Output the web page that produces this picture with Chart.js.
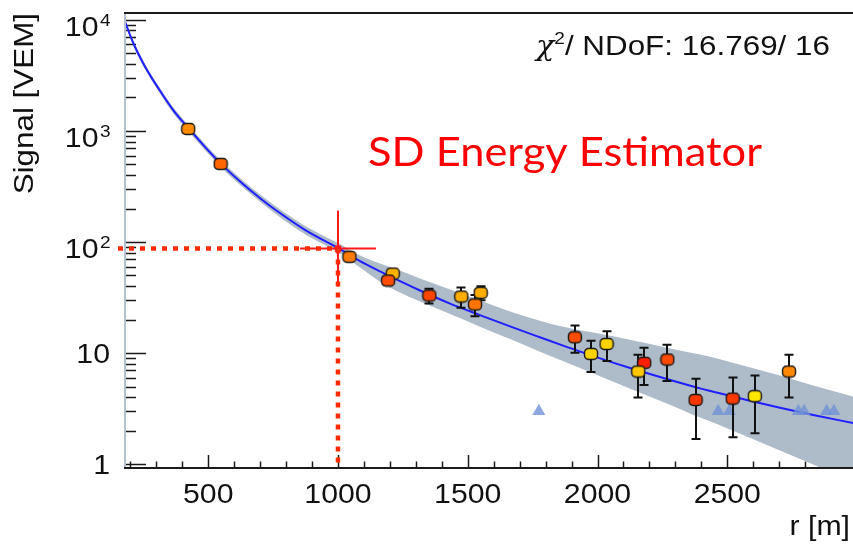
<!DOCTYPE html>
<html>
<head>
<meta charset="utf-8">
<script src="https://cdn.jsdelivr.net/npm/chart.js@4"></script>
<style>
  html, body { margin: 0; padding: 0; background: #fff; overflow: hidden; }
</style>
</head>
<body>
<canvas id="ldf" width="853" height="548"></canvas>
<script>
// triggered stations: distance to axis r [m], signal [VEM], error, marker colour
const stationR   = [423, 548, 1044, 1211, 1193, 1352, 1475, 1550, 1528, 1913, 1975, 2035, 2180, 2157, 2269, 2378, 2521, 2606, 2738];
const stationS   = [1040, 504, 73.5, 52.0, 45.0, 33.0, 32.3, 34.9, 27.4, 13.9, 9.85, 12.1, 8.18, 6.83, 8.76, 3.79, 3.90, 4.10, 6.83];
const stationErr = [45, 25, 4, 4, 4, 5, 6.7, 5, 5.9, 3.8, 3.1, 3.6, 3.0, 2.85, 3.15, 2.1, 2.15, 2.2, 2.85];
const stationCol = ['#ff8c00', '#ff6600', '#ff7a00', '#ffb300', '#ff4d00', '#ff4400', '#ffad00', '#ffae00', '#ff7300',
                    '#ff4c00', '#ffd400', '#ffd200', '#ff1f00', '#ffc800', '#ff4800', '#ff3800', '#ff3800', '#ffe600', '#ff8800'];

// silent stations
const silentR = [1774, 2465, 2508, 2774, 2796, 2883, 2911];
const silentS = [3.0, 3.0, 3.0, 3.0, 3.0, 3.0, 3.0];

// fitted lateral distribution function and its uncertainty band
const fitR   = [179, 211, 256, 314, 365, 423, 488, 552, 635, 706, 764, 879, 1004, 1085, 1162, 1239, 1316, 1432,
                1547, 1663, 1778, 1881, 1984, 2138, 2267, 2395, 2446, 2575, 2703, 2831, 2985];
const fitS   = [9660, 6174, 3802, 2299, 1536, 1062, 714, 497, 331, 241.6, 190.9, 125.8, 87.2, 67.3, 54.4, 44.4, 36.6, 27.9,
                22.0, 17.4, 13.9, 11.4, 9.40, 7.19, 5.85, 4.82, 4.50, 3.79, 3.23, 2.78, 2.35];
const bandHi = [10163, 6495, 4019, 2435, 1634, 1133, 763, 533, 355.5, 260.7, 206.9, 137.2, 96.7, 75.5, 63.9, 55.3, 46.9, 37.3,
                29.7, 23.7, 19.6, 17.0, 15.3, 13.0, 11.2, 9.71, 9.13, 7.57, 6.29, 5.11, 4.07];
const bandLo = [9183, 5869, 3597, 2170, 1444, 995, 668, 464, 308, 223.9, 176.1, 115.3, 80.3, 58.9, 44.0, 35.1, 29.1, 22.5,
                17.3, 13.4, 10.3, 8.23, 6.55, 4.66, 3.52, 2.63, 2.38, 1.78, 1.33, 0.995, 0.70];

// S(1000)
const refR = 1000;
const refS = 87.2;

// axis ticks
const xTicks = [500, 1000, 1500, 2000, 2500];
const xTickLabels = ['500', '1000', '1500', '2000', '2500'];
const yTicks = [1, 10, 100, 1000, 10000];
const yTickExp = [null, null, '2', '3', '4'];
const yTickBase = ['1', '10', '10', '10', '10'];

const FONT = '"Liberation Sans", Arial, Helvetica, sans-serif';
const SX = 1.12;

const xy = (xs, ys) => xs.map((v, i) => ({ x: v, y: ys[i] }));

function stationMarker(fill) {
  const c = document.createElement('canvas');
  c.width = 16; c.height = 14;
  const g = c.getContext('2d');
  g.beginPath();
  g.roundRect(1.5, 1.5, 13, 11, 4);
  g.fillStyle = fill;
  g.fill();
  g.lineWidth = 1.4;
  g.strokeStyle = '#1a1a1a';
  g.stroke();
  return c;
}

// text stretched horizontally by sx
function put(ctx, str, x, y, align, size, sx, rot) {
  ctx.save();
  ctx.translate(x, y);
  if (rot) ctx.rotate(rot);
  ctx.scale(sx, 1);
  ctx.font = size + 'px ' + FONT;
  ctx.textAlign = align;
  ctx.textBaseline = 'alphabetic';
  ctx.fillText(str, 0, 0);
  ctx.restore();
}

const axes = {
  id: 'axes',
  beforeDatasetsDraw(chart) {
    const { ctx, chartArea: a, scales: { x, y } } = chart;
    ctx.save();
    ctx.strokeStyle = '#1a1a1a';
    ctx.lineWidth = 1.5;
    ctx.beginPath();
    // y ticks, inside the frame
    for (let d = 1; d <= 10000; d *= 10) {
      for (let m = 1; m <= 9; m++) {
        const v = d * m;
        if (v < y.min || v > y.max) continue;
        const py = Math.round(y.getPixelForValue(v)) + 0.5;
        ctx.moveTo(a.left, py);
        ctx.lineTo(a.left + (m === 1 ? 21 : 11), py);
      }
    }
    // x ticks
    for (let r = 200; r < x.max; r += 100) {
      const px = Math.round(x.getPixelForValue(r)) + 0.5;
      ctx.moveTo(px, a.bottom);
      ctx.lineTo(px, a.bottom - (r % 500 === 0 ? 13 : 6.5));
    }
    ctx.stroke();
    ctx.restore();
  },
  afterDatasetsDraw(chart) {
    const { ctx, chartArea: a, scales: { x, y } } = chart;
    ctx.save();
    // S(1000) guide lines
    const px = x.getPixelForValue(refR), py = y.getPixelForValue(refS);
    ctx.strokeStyle = '#ff2a00';
    ctx.lineWidth = 4.5;
    ctx.setLineDash([5, 6]);
    ctx.beginPath();
    ctx.moveTo(a.left - 7, py); ctx.lineTo(px, py);
    ctx.moveTo(px, py); ctx.lineTo(px, a.bottom);
    ctx.stroke();
    ctx.setLineDash([]);

    // frame
    ctx.lineWidth = 2;
    ctx.strokeStyle = '#b4c2d0';
    ctx.beginPath();
    ctx.moveTo(a.left, a.top); ctx.lineTo(a.left, a.bottom);
    ctx.stroke();
    ctx.strokeStyle = '#1a1a1a';
    ctx.beginPath();
    ctx.moveTo(a.left - 1, a.top); ctx.lineTo(a.right, a.top);
    ctx.moveTo(a.left - 1, a.bottom); ctx.lineTo(a.right, a.bottom);
    ctx.stroke();

    // tick labels
    ctx.fillStyle = '#111';
    xTicks.forEach((v, i) => put(ctx, xTickLabels[i], x.getPixelForValue(v), 503, 'center', 27, SX));
    yTicks.forEach((v, i) => {
      const ty = y.getPixelForValue(v);
      if (yTickExp[i]) {
        put(ctx, yTickBase[i], 98.5, ty + 16, 'right', 27, SX);
        put(ctx, yTickExp[i], 100, ty + 6, 'left', 17, SX);
      } else {
        put(ctx, yTickBase[i], 110, ty + 10, 'right', 27, SX);
      }
    });

    // axis titles
    put(ctx, 'r [m]', 850, 535, 'right', 27, SX);
    put(ctx, 'Signal [VEM]', 33, 13, 'right', 28, SX, -Math.PI / 2);

    // fit quality
    ctx.save();
    ctx.translate(536, 55);
    ctx.scale(SX, 1);
    ctx.textAlign = 'left';
    ctx.font = 'italic 27px "DejaVu Serif", serif';
    ctx.fillText('\u03c7', 0, 0);
    let w = ctx.measureText('\u03c7').width;
    ctx.font = '17px ' + FONT;
    ctx.fillText('2', w, -11);
    w += ctx.measureText('2').width;
    ctx.font = '28px ' + FONT;
    ctx.fillText('/ NDoF: 16.769/ 16', w, 0);
    ctx.restore();

    // title
    ctx.fillStyle = '#ff0000';
    ctx.font = '41px Lato, "Open Sans", sans-serif';
    ctx.textAlign = 'left';
    const tw = ctx.measureText('SD Energy Estimator').width;
    ctx.save();
    ctx.translate(368, 166);
    ctx.scale(394 / tw, 1);
    ctx.fillText('SD Energy Estimator', 0, 0);
    ctx.restore();
    ctx.restore();
  }
};

const errorBars = {
  id: 'errorBars',
  beforeDatasetDraw(chart, args) {
    if (chart.data.datasets[args.index].label !== 'stations') return;
    const { ctx, scales: { x, y } } = chart;
    ctx.save();
    ctx.strokeStyle = '#111';
    ctx.lineWidth = 2;
    ctx.beginPath();
    stationR.forEach((r, i) => {
      const px = Math.round(x.getPixelForValue(r));
      const top = y.getPixelForValue(stationS[i] + stationErr[i]);
      const bot = y.getPixelForValue(stationS[i] - stationErr[i]);
      ctx.moveTo(px, top); ctx.lineTo(px, bot);
      ctx.moveTo(px - 4.5, top); ctx.lineTo(px + 4.5, top);
      ctx.moveTo(px - 4.5, bot); ctx.lineTo(px + 4.5, bot);
    });
    ctx.stroke();
    ctx.restore();
  }
};

new Chart(document.getElementById('ldf'), {
  type: 'scatter',
  data: {
    datasets: [
      { label: 'band', data: xy(fitR, bandHi), showLine: true, fill: '+1', backgroundColor: '#aebbc8',
        borderWidth: 0, pointRadius: 0, cubicInterpolationMode: 'monotone', order: 10 },
      { label: 'bandLo', data: xy(fitR, bandLo), showLine: true, fill: false, borderWidth: 0, pointRadius: 0,
        cubicInterpolationMode: 'monotone', order: 10 },
      { label: 'fit', data: xy(fitR, fitS), showLine: true, borderColor: '#1f1fff', borderWidth: 2,
        pointRadius: 0, cubicInterpolationMode: 'monotone', order: 9 },
      { label: 'silent', data: xy(silentR, silentS), pointStyle: 'triangle', pointRadius: 7.5,
        backgroundColor: 'rgba(112,146,214,0.8)', borderWidth: 0, order: 5 },
      { label: 'S1000', data: [{ x: refR, y: refS }], pointStyle: 'cross', pointRadius: 38,
        borderColor: '#ff1a1a', borderWidth: 2, order: 4 },
      { label: 'S1000c', data: [{ x: refR, y: refS }], pointStyle: 'rect', pointRadius: 4.5,
        backgroundColor: '#ff1a1a', borderWidth: 0, order: 3 },
      { label: 'stations', data: xy(stationR, stationS), pointStyle: stationCol.map(stationMarker),
        pointRadius: 7, order: 1 }
    ]
  },
  options: {
    responsive: false,
    devicePixelRatio: 1,
    animation: false,
    layout: { autoPadding: false, padding: { left: 125, top: 13, right: 0, bottom: 80 } },
    plugins: { legend: { display: false }, tooltip: { enabled: false } },
    scales: {
      x: { type: 'linear', min: 179.3, max: 2984.5, display: false },
      y: { type: 'logarithmic', min: 0.926, max: 11494, display: false }
    }
  },
  plugins: [axes, errorBars]
});
</script>
</body>
</html>
